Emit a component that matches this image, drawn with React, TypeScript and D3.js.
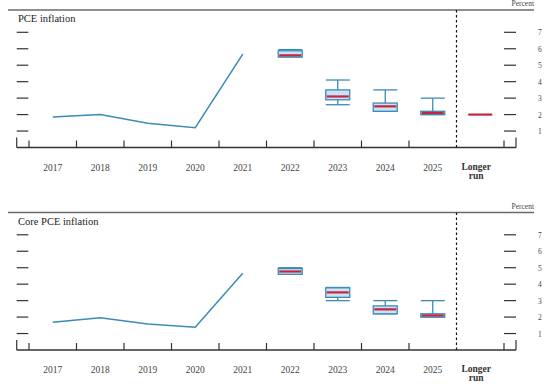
import React, { useEffect, useRef } from "react";
import * as d3 from "d3";

/* Categories & tick labels */
const categories = ["2017", "2018", "2019", "2020", "2021", "2022", "2023", "2024", "2025", "Longer run"];
const historyYears = ["2017", "2018", "2019", "2020", "2021"];
const projYears = ["2022", "2023", "2024", "2025"];
const yTicks = [1, 2, 3, 4, 5, 6, 7];

/* PCE inflation */
const pceHistory = [1.85, 2.0, 1.47, 1.2, 5.67];
const pceMedian = [5.6, 3.1, 2.5, 2.1];
const pceCentralLow = [5.5, 2.9, 2.2, 2.0];
const pceCentralHigh = [5.88, 3.5, 2.7, 2.2];
const pceRangeLow = [5.5, 2.6, 2.2, 2.0];
const pceRangeHigh = [5.95, 4.1, 3.5, 3.0];
const pceLongerRun = [2.0];

/* Core PCE inflation */
const coreHistory = [1.68, 1.96, 1.58, 1.38, 4.66];
const coreMedian = [4.77, 3.5, 2.47, 2.1];
const coreCentralLow = [4.6, 3.2, 2.2, 2.0];
const coreCentralHigh = [4.95, 3.78, 2.68, 2.2];
const coreRangeLow = [4.6, 3.0, 2.2, 2.0];
const coreRangeHigh = [5.0, 3.8, 3.0, 3.0];
const coreLongerRun: number[] = [];

const lineColor = "#3a8cb6";
const boxFill = "#c9e2f6";
const medianColor = "#c8233f";
const axisColor = "#333";
const textColor = "#444";
const font = "'Liberation Serif', 'DejaVu Serif', serif";

const drawPanel = (
  svg: d3.Selection<SVGSVGElement, unknown, null, undefined>,
  top: number,
  title: string,
  history: number[],
  median: number[],
  cLow: number[],
  cHigh: number[],
  rLow: number[],
  rHigh: number[],
  longer: number[]
) => {
  const g = svg.append("g").attr("transform", `translate(0, ${top})`);
  const base = 137.5;

  const x = d3.scaleBand().domain(categories).range([29, 504]).padding(0);
  const y = d3.scaleLinear().domain([0, 7]).range([base, 22.3]);
  const cx = (c: string) => (x(c) as number) + x.bandwidth() / 2;

  /* top rule */
  g.append("line")
    .attr("x1", 8).attr("x2", 534).attr("y1", 0).attr("y2", 0)
    .attr("stroke", "#6a6a6a").attr("stroke-width", 1.5);

  g.append("text")
    .attr("x", 534).attr("y", -4).attr("text-anchor", "end")
    .attr("font-family", font).attr("font-size", 7.5).attr("fill", textColor)
    .text("Percent");

  g.append("text")
    .attr("x", 18).attr("y", 12).attr("font-family", font)
    .attr("font-size", 10.5).attr("fill", "#222")
    .text(title);

  /* y ticks left & right */
  const tickG = g.append("g").attr("stroke", axisColor).attr("stroke-width", 1.2);
  yTicks.forEach((t) => {
    tickG.append("line").attr("x1", 16.7).attr("x2", 28.3).attr("y1", y(t)).attr("y2", y(t));
    tickG.append("line").attr("x1", 504).attr("x2", 516).attr("y1", y(t)).attr("y2", y(t));
  });
  g.append("g")
    .selectAll("text")
    .data(yTicks)
    .join("text")
    .attr("x", 538).attr("y", (d) => y(d) + 3)
    .attr("font-family", font).attr("font-size", 7.5).attr("fill", textColor)
    .text((d) => d);

  /* x axis */
  g.append("line")
    .attr("x1", 16.7).attr("x2", 516).attr("y1", base).attr("y2", base)
    .attr("stroke", axisColor).attr("stroke-width", 1.3);
  const bounds = categories.slice(0, 9).map((c) => x(c) as number).concat([504]);
  g.append("g")
    .selectAll("line")
    .data(bounds)
    .join("line")
    .attr("x1", (d) => d).attr("x2", (d) => d)
    .attr("y1", base - 7).attr("y2", base)
    .attr("stroke", axisColor).attr("stroke-width", 1.2);
  [16.7, 516].forEach((e) => {
    g.append("line")
      .attr("x1", e).attr("x2", e).attr("y1", base - 10).attr("y2", base)
      .attr("stroke", axisColor).attr("stroke-width", 1.2);
  });

  /* dashed separator */
  const sep = x("Longer run") as number;
  g.append("line")
    .attr("x1", sep).attr("x2", sep).attr("y1", 0).attr("y2", base)
    .attr("stroke", "#111").attr("stroke-width", 1.2)
    .attr("stroke-dasharray", "2.5,2.5");

  /* x labels */
  g.append("g")
    .selectAll("text")
    .data(categories.slice(0, 9))
    .join("text")
    .attr("x", (d) => cx(d)).attr("y", base + 23)
    .attr("text-anchor", "middle")
    .attr("font-family", font).attr("font-size", 9.5).attr("fill", textColor)
    .text((d) => d);
  const lr = g.append("text")
    .attr("x", cx("Longer run") - 4).attr("y", base + 22)
    .attr("text-anchor", "middle")
    .attr("font-family", font).attr("font-size", 9.5).attr("font-weight", "bold")
    .attr("fill", "#333");
  lr.append("tspan").attr("x", cx("Longer run") - 4).text("Longer");
  lr.append("tspan").attr("x", cx("Longer run") - 4).attr("dy", 9).text("run");

  /* history line */
  const line = d3
    .line<number>()
    .x((_, i) => cx(historyYears[i]))
    .y((d) => y(d));
  g.append("path")
    .datum(history)
    .attr("d", line)
    .attr("fill", "none")
    .attr("stroke", lineColor)
    .attr("stroke-width", 1.5);

  /* box plots */
  const bw = 24;
  projYears.forEach((yr, i) => {
    const c = cx(yr);
    const bg = g.append("g");
    bg.append("line")
      .attr("x1", c).attr("x2", c).attr("y1", y(rHigh[i])).attr("y2", y(rLow[i]))
      .attr("stroke", lineColor).attr("stroke-width", 1.3);
    [rHigh[i], rLow[i]].forEach((v) => {
      bg.append("line")
        .attr("x1", c - bw / 2).attr("x2", c + bw / 2).attr("y1", y(v)).attr("y2", y(v))
        .attr("stroke", lineColor).attr("stroke-width", 1.3);
    });
    bg.append("rect")
      .attr("x", c - bw / 2).attr("width", bw)
      .attr("y", y(cHigh[i])).attr("height", y(cLow[i]) - y(cHigh[i]))
      .attr("fill", boxFill).attr("stroke", lineColor).attr("stroke-width", 1.3);
    bg.append("line")
      .attr("x1", c - bw / 2 + 1).attr("x2", c + bw / 2 - 1)
      .attr("y1", y(median[i])).attr("y2", y(median[i]))
      .attr("stroke", medianColor).attr("stroke-width", 2.2);
  });

  longer.forEach((v) => {
    const c = cx("Longer run");
    g.append("line")
      .attr("x1", c - 12).attr("x2", c + 12).attr("y1", y(v)).attr("y2", y(v))
      .attr("stroke", medianColor).attr("stroke-width", 2.2);
  });
};

const App = () => {
  const ref = useRef<SVGSVGElement>(null);

  useEffect(() => {
    document.body.style.margin = "0";
    const svg = d3.select(ref.current!);
    svg.selectAll("*").remove();
    drawPanel(svg, 10, "PCE inflation", pceHistory, pceMedian, pceCentralLow, pceCentralHigh,
      pceRangeLow, pceRangeHigh, pceLongerRun);
    drawPanel(svg, 212.5, "Core PCE inflation", coreHistory, coreMedian, coreCentralLow,
      coreCentralHigh, coreRangeLow, coreRangeHigh, coreLongerRun);
  }, []);

  return <svg ref={ref} width={554} height={391} style={{ display: "block", background: "#fff" }} />;
};

export default App;
